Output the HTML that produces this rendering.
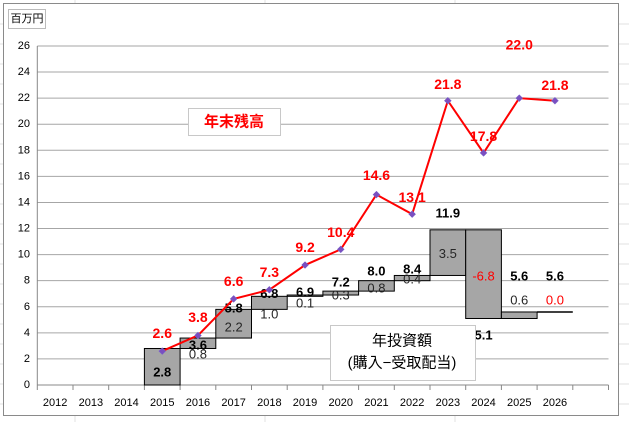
<!DOCTYPE html>
<html><head><meta charset="utf-8"><style>
body{margin:0;background:#fff;width:629px;height:422px;overflow:hidden;font-family:"Liberation Sans","Noto Sans CJK JP",sans-serif}
svg{position:absolute;left:0;top:0}
</style></head><body>
<svg id="c" width="629" height="422" xmlns="http://www.w3.org/2000/svg" font-family="Liberation Sans, Noto Sans CJK JP, sans-serif"></svg>
<script>
const categories=["2012","2013","2014","2015","2016","2017","2018","2019","2020","2021","2022","2023","2024","2025","2026"];
const yTicks=[0,2,4,6,8,10,12,14,16,18,20,22,24,26];
const balance=[null,null,null,2.6,3.8,6.6,7.3,9.2,10.4,14.6,13.1,21.8,17.8,22.0,21.8];
const balanceLabels=["","","","2.6","3.8","6.6","7.3","9.2","10.4","14.6","13.1","21.8","17.8","22.0","21.8"];
const stepLow=[null,null,null,0,2.8,3.6,5.8,6.8,6.9,7.2,8.0,8.4,5.1,5.1,5.6];
const stepHigh=[null,null,null,2.8,3.6,5.8,6.8,6.9,7.2,8.0,8.4,11.9,11.9,5.6,5.6];
const cumTotal=[null,null,null,2.8,3.6,5.8,6.8,6.9,7.2,8.0,8.4,11.9,5.1,5.6,5.6];
const cumLabels=["","","","2.8","3.6","5.8","6.8","6.9","7.2","8.0","8.4","11.9","5.1","5.6","5.6"];
const increments=[null,null,null,2.8,0.8,2.2,1.0,0.1,0.3,0.8,0.4,3.5,-6.8,0.6,0.0];
const incLabels=["","","","","0.8","2.2","1.0","0.1","0.3","0.8","0.4","3.5","-6.8","0.6","0.0"];
const incLabelAt=[null,null,null,null,2.38,4.45,5.44,6.29,6.9,7.44,8.13,10.1,8.36,6.52,6.52];
const cumLabelAt=[null,null,null,1.0,3.07,5.9,7.0,7.13,7.9,8.74,8.9,13.2,3.83,8.36,8.36];
const balLabelAt=[null,null,null,3.99,5.21,7.98,8.67,10.58,11.73,16.1,14.42,23.1,19.1,26.1,23.0];

const svg=document.getElementById('c');
const NS='http://www.w3.org/2000/svg';
const X0=37.3,CW=35.7,Y0=385,YS=13.04;
function xS(i){return X0+i*CW;}
function xC(i){return X0+(i+0.5)*CW;}
function yS(v){return Y0-v*YS;}
function mk(t,a,p){const e=document.createElementNS(NS,t);for(const k in a)e.setAttribute(k,a[k]);(p||svg).appendChild(e);return e;}
function tx(s,x,y,a){const e=mk('text',Object.assign({x:x,y:y,'text-anchor':'middle','dominant-baseline':'central'},a));e.textContent=s;return e;}

mk('rect',{x:0,y:0,width:629,height:422,fill:'#fff'});
for(let y=24;y<422;y+=20) mk('line',{x1:0,x2:629,y1:y,y2:y,stroke:'#e2e2e2'});
[75,265,455].forEach(x=>mk('line',{x1:x,x2:x,y1:0,y2:422,stroke:'#e2e2e2'}));
const frame=mk('rect',{x:3.5,y:3.5,width:615,height:412,fill:'#fff',stroke:'#8a8a8a'});



yTicks.forEach(v=>{
  const g=mk('line',{x1:X0,x2:X0+16*CW,y1:yS(v),y2:yS(v),stroke:v===0?'#888':'#a6a6a6'});
  
  
  const t=tx(String(v),30,yS(v),{'text-anchor':'end','font-size':11,fill:'#000'});
  
  
});
mk('line',{x1:X0,x2:X0,y1:yS(26),y2:Y0,stroke:'#888'});
for(let i=0;i<=16;i++) mk('line',{x1:xS(i),x2:xS(i),y1:Y0,y2:Y0+5,stroke:'#888'});
categories.forEach((c,i)=>{
  const t=tx(c,xC(i),403,{'font-size':11,fill:'#000'});
  
  
});
const ub=mk('rect',{x:8.5,y:9.5,width:37,height:19,fill:'#fff',stroke:'#bbb'});


const ut=tx('百万円',27,19,{'font-size':11});



categories.forEach((c,i)=>{
  if(stepLow[i]==null)return;
  const lo=stepLow[i],hi=stepHigh[i];
  if(hi-lo<0.001){
    const l=mk('line',{x1:xS(i),x2:xS(i+1),y1:yS(hi),y2:yS(hi),stroke:'#000','stroke-width':1.5});
    
    
  }else{
    const r=mk('rect',{x:xS(i),y:yS(hi),width:CW,height:(hi-lo)*YS,fill:'#a6a6a6',stroke:'#000','stroke-width':1});
    
    
  }
});
categories.forEach((c,i)=>{
  if(incLabelAt[i]==null)return;
  const neg=increments[i]<0||increments[i]===0&&i===14;
  const t=tx(incLabels[i],xC(i),yS(incLabelAt[i]),{'font-size':13,fill:neg?'#ff0000':'#262626'});
  
  
});
categories.forEach((c,i)=>{
  if(cumLabelAt[i]==null)return;
  const t=tx(cumLabels[i],xC(i),yS(cumLabelAt[i]),{'font-size':13,'font-weight':'bold',fill:'#000'});
  
  
});
let pts=[];
balance.forEach((v,i)=>{if(v!=null)pts.push(xC(i)+','+yS(v));});
const pl=mk('polyline',{points:pts.join(' '),fill:'none',stroke:'#ff0000','stroke-width':2});


balance.forEach((v,i)=>{
  if(v==null)return;
  const x=xC(i),y=yS(v);
  const m=mk('polygon',{points:`${x},${y-3.5} ${x+3.5},${y} ${x},${y+3.5} ${x-3.5},${y}`,fill:'#7a4fc0',stroke:'#7a6fd0','stroke-width':0.5});
  
  
  const t=tx(balanceLabels[i],x,yS(balLabelAt[i]),{'font-size':14,'font-weight':'bold',fill:'#ff0000'});
  
  
});
const b1=mk('rect',{x:188.5,y:108.5,width:92,height:27,fill:'#fff',stroke:'#c8c8c8'});


const t1=tx('年末残高',234,122,{'font-size':15,'font-weight':'bold',fill:'#ff0000'});


const b2=mk('rect',{x:330.5,y:325.5,width:145,height:55,fill:'#fff',stroke:'#c8c8c8'});


const t2=tx('年投資額',402,341,{'font-size':15,fill:'#000'});


const t3=tx('(購入−受取配当)',402,363,{'font-size':15,fill:'#000'});


</script>
</body></html>
